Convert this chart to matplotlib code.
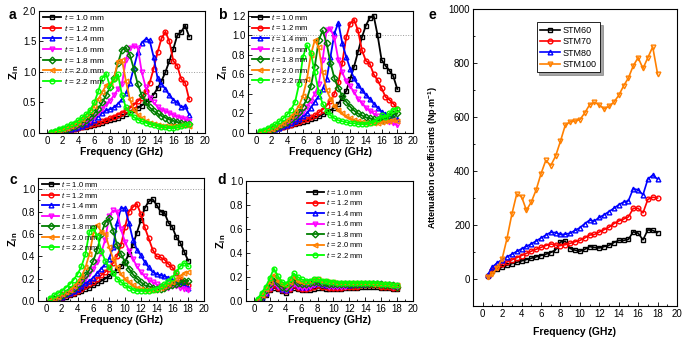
import numpy as np
import matplotlib
matplotlib.use("Agg")
import matplotlib.pyplot as plt
from matplotlib.ticker import MultipleLocator, AutoMinorLocator

#------------------------------------------------------------------------------
# data (Zin vs frequency, attenuation vs frequency)

freq = [0.5, 1.0, 1.5, 2.0, 2.5, 3.0, 3.5, 4.0, 4.5, 5.0, 5.5, 6.0,
        6.5, 7.0, 7.5, 8.0, 8.5, 9.0, 9.5, 10.0, 10.5, 11.0, 11.5, 12.0,
        12.5, 13.0, 13.5, 14.0, 14.5, 15.0, 15.5, 16.0, 16.5, 17.0, 17.5, 18.0]

thick = ["1.0", "1.2", "1.4", "1.6", "1.8", "2.0", "2.2"]

# panel a
za_10 = [0.00,0.01,0.02,0.03,0.04,0.05,0.06,0.08,0.09,0.10,0.12,0.13,0.15,0.17,0.19,0.21,0.23,0.25,
         0.28,0.31,0.34,0.37,0.41,0.45,0.50,0.56,0.63,0.73,0.85,1.00,1.18,1.38,1.60,1.66,1.76,1.58]
za_12 = [0.00,0.01,0.02,0.03,0.04,0.05,0.07,0.08,0.10,0.11,0.13,0.15,0.17,0.19,0.21,0.24,0.27,0.30,
         0.33,0.37,0.41,0.46,0.52,0.58,0.68,0.82,1.05,1.32,1.55,1.66,1.50,1.18,1.10,0.88,0.82,0.55]
za_14 = [0.00,0.01,0.02,0.03,0.05,0.06,0.08,0.10,0.12,0.15,0.18,0.22,0.27,0.33,0.37,0.39,0.42,0.48,
         0.55,0.65,0.82,1.07,1.32,1.48,1.54,1.52,1.25,0.90,0.80,0.72,0.62,0.54,0.50,0.42,0.44,0.30]
za_16 = [0.00,0.01,0.03,0.04,0.06,0.08,0.10,0.12,0.15,0.18,0.22,0.27,0.33,0.40,0.47,0.53,0.62,0.72,
         0.80,1.20,1.40,1.43,1.40,1.00,0.75,0.58,0.50,0.43,0.38,0.36,0.33,0.30,0.27,0.25,0.23,0.20]
za_18 = [0.00,0.02,0.03,0.05,0.07,0.09,0.11,0.14,0.17,0.21,0.26,0.32,0.40,0.50,0.62,0.75,0.90,1.15,
         1.36,1.40,1.28,1.05,0.80,0.62,0.50,0.42,0.36,0.32,0.28,0.25,0.22,0.20,0.18,0.16,0.15,0.14]
za_20 = [0.00,0.02,0.04,0.06,0.08,0.11,0.14,0.18,0.23,0.29,0.36,0.44,0.55,0.67,0.78,0.80,0.90,1.18,
         1.20,0.85,0.55,0.38,0.30,0.24,0.20,0.17,0.15,0.13,0.12,0.11,0.11,0.11,0.12,0.13,0.13,0.12]
za_22 = [0.02,0.04,0.06,0.08,0.11,0.14,0.17,0.21,0.26,0.31,0.38,0.50,0.68,0.90,0.97,0.76,0.88,0.96,
         0.62,0.42,0.32,0.26,0.22,0.19,0.17,0.15,0.13,0.12,0.10,0.09,0.08,0.08,0.09,0.11,0.13,0.14]

# panel b
zb_10 = [0.00,0.01,0.02,0.03,0.04,0.05,0.06,0.07,0.08,0.09,0.10,0.11,0.12,0.14,0.15,0.17,0.19,0.21,
         0.23,0.26,0.30,0.36,0.43,0.55,0.68,0.83,0.98,1.10,1.18,1.20,1.00,0.75,0.69,0.64,0.58,0.45]
zb_12 = [0.00,0.01,0.02,0.03,0.04,0.05,0.06,0.07,0.08,0.10,0.11,0.13,0.14,0.16,0.18,0.21,0.24,0.28,
         0.33,0.40,0.52,0.72,0.98,1.12,1.16,1.05,0.85,0.74,0.71,0.60,0.54,0.46,0.37,0.34,0.30,0.25]
zb_14 = [0.00,0.01,0.02,0.03,0.04,0.05,0.07,0.08,0.10,0.12,0.14,0.17,0.20,0.26,0.32,0.38,0.45,0.55,
         0.78,1.02,1.13,0.92,0.78,0.66,0.56,0.49,0.44,0.39,0.35,0.30,0.26,0.22,0.19,0.17,0.16,0.14]
zb_16 = [0.00,0.01,0.02,0.03,0.05,0.06,0.08,0.10,0.12,0.15,0.18,0.22,0.27,0.33,0.40,0.50,0.75,1.05,
         1.07,0.97,0.75,0.62,0.53,0.48,0.42,0.35,0.31,0.26,0.23,0.20,0.17,0.15,0.13,0.11,0.10,0.08]
zb_18 = [0.00,0.01,0.02,0.04,0.05,0.07,0.09,0.11,0.14,0.17,0.21,0.27,0.35,0.48,0.68,0.95,1.05,0.92,
         0.72,0.56,0.46,0.38,0.32,0.27,0.23,0.20,0.18,0.16,0.15,0.14,0.13,0.13,0.14,0.17,0.19,0.20]
zb_20 = [0.00,0.01,0.03,0.04,0.06,0.08,0.10,0.13,0.17,0.22,0.28,0.38,0.55,0.80,0.95,0.88,0.62,0.44,
         0.35,0.28,0.24,0.20,0.17,0.15,0.13,0.12,0.11,0.10,0.10,0.10,0.10,0.11,0.12,0.12,0.13,0.12]
zb_22 = [0.02,0.03,0.05,0.07,0.09,0.12,0.15,0.19,0.24,0.32,0.50,0.78,0.90,0.82,0.62,0.42,0.30,0.23,
         0.18,0.15,0.13,0.12,0.11,0.10,0.10,0.09,0.09,0.09,0.10,0.11,0.14,0.18,0.16,0.20,0.24,0.25]

# panel c
zc_10 = [0.00,0.01,0.02,0.03,0.04,0.05,0.06,0.08,0.09,0.11,0.12,0.14,0.16,0.18,0.20,0.22,0.25,0.28,
         0.31,0.35,0.42,0.50,0.61,0.72,0.83,0.89,0.91,0.86,0.80,0.79,0.70,0.66,0.57,0.52,0.44,0.36]
zc_12 = [0.00,0.01,0.02,0.03,0.05,0.06,0.07,0.09,0.11,0.13,0.15,0.17,0.20,0.23,0.26,0.29,0.34,0.40,
         0.50,0.66,0.80,0.84,0.87,0.78,0.66,0.56,0.46,0.40,0.39,0.37,0.33,0.30,0.25,0.20,0.17,0.14]
zc_14 = [0.00,0.01,0.03,0.04,0.06,0.07,0.09,0.11,0.13,0.16,0.18,0.21,0.25,0.29,0.33,0.38,0.48,0.70,
         0.83,0.83,0.70,0.55,0.46,0.41,0.35,0.30,0.26,0.24,0.23,0.22,0.21,0.19,0.17,0.15,0.14,0.12]
zc_16 = [0.00,0.02,0.03,0.05,0.07,0.09,0.11,0.14,0.17,0.20,0.24,0.29,0.35,0.43,0.55,0.76,0.81,0.80,
         0.64,0.53,0.45,0.38,0.31,0.26,0.22,0.19,0.17,0.15,0.13,0.12,0.12,0.13,0.13,0.12,0.11,0.10]
zc_18 = [0.00,0.02,0.03,0.05,0.07,0.10,0.12,0.15,0.19,0.23,0.28,0.36,0.46,0.60,0.70,0.74,0.63,0.50,
         0.42,0.35,0.29,0.24,0.20,0.17,0.14,0.13,0.12,0.11,0.11,0.12,0.13,0.14,0.15,0.16,0.18,0.18]
zc_20 = [0.01,0.02,0.04,0.06,0.08,0.10,0.13,0.17,0.22,0.30,0.42,0.60,0.68,0.62,0.60,0.48,0.38,0.30,
         0.24,0.20,0.17,0.14,0.12,0.11,0.10,0.10,0.10,0.11,0.12,0.13,0.15,0.17,0.20,0.22,0.25,0.26]
zc_22 = [0.03,0.05,0.07,0.09,0.12,0.15,0.19,0.24,0.31,0.42,0.62,0.65,0.58,0.45,0.36,0.30,0.25,0.20,
         0.17,0.14,0.12,0.10,0.09,0.09,0.09,0.09,0.10,0.11,0.13,0.15,0.18,0.21,0.26,0.31,0.34,0.31]

# panel d
zd_10 = [0.00,0.02,0.05,0.09,0.11,0.10,0.08,0.07,0.09,0.11,0.10,0.09,0.09,0.09,0.10,0.11,0.11,0.10,
         0.10,0.10,0.10,0.10,0.11,0.11,0.11,0.11,0.12,0.12,0.12,0.12,0.12,0.11,0.11,0.11,0.10,0.10]
zd_12 = [0.00,0.03,0.06,0.10,0.13,0.11,0.09,0.08,0.10,0.13,0.11,0.10,0.10,0.11,0.12,0.13,0.12,0.12,
         0.11,0.11,0.11,0.11,0.12,0.12,0.12,0.12,0.13,0.13,0.13,0.13,0.13,0.12,0.12,0.12,0.11,0.11]
zd_14 = [0.00,0.03,0.07,0.12,0.16,0.13,0.10,0.09,0.12,0.15,0.13,0.12,0.12,0.13,0.14,0.15,0.14,0.13,
         0.13,0.13,0.13,0.13,0.13,0.13,0.14,0.14,0.14,0.14,0.15,0.15,0.15,0.15,0.14,0.14,0.13,0.13]
zd_16 = [0.00,0.03,0.07,0.11,0.15,0.12,0.10,0.09,0.11,0.14,0.12,0.11,0.11,0.12,0.13,0.14,0.13,0.13,
         0.12,0.12,0.12,0.12,0.12,0.13,0.13,0.13,0.13,0.13,0.14,0.14,0.14,0.13,0.13,0.13,0.12,0.12]
zd_18 = [0.01,0.04,0.09,0.14,0.19,0.15,0.12,0.11,0.14,0.18,0.15,0.14,0.14,0.15,0.16,0.16,0.15,0.15,
         0.14,0.14,0.14,0.14,0.14,0.14,0.14,0.14,0.14,0.14,0.14,0.14,0.14,0.14,0.13,0.13,0.13,0.12]
zd_20 = [0.01,0.05,0.10,0.16,0.22,0.17,0.14,0.13,0.16,0.20,0.17,0.16,0.16,0.17,0.18,0.18,0.17,0.17,
         0.16,0.16,0.15,0.15,0.15,0.15,0.15,0.15,0.15,0.15,0.15,0.14,0.14,0.14,0.14,0.13,0.13,0.13]
zd_22 = [0.02,0.07,0.12,0.19,0.27,0.21,0.16,0.14,0.18,0.23,0.20,0.18,0.17,0.17,0.18,0.18,0.17,0.17,
         0.16,0.16,0.15,0.15,0.15,0.15,0.15,0.15,0.15,0.15,0.15,0.15,0.15,0.14,0.14,0.14,0.13,0.13]

# panel e, attenuation coefficient (Np/m)
stm_names = ["STM60", "STM70", "STM80", "STM100"]
att_60 = [12,28,37,45,51,57,62,67,72,77,82,87,92,98,108,137,140,113,
          107,103,110,120,117,115,120,125,135,143,143,147,175,170,145,182,180,172]
att_70 = [12,33,45,55,63,71,79,87,95,103,110,117,124,130,126,124,127,132,
          138,143,152,163,165,174,183,192,205,215,222,230,262,262,245,295,303,300]
att_80 = [15,45,60,72,82,92,102,112,121,130,141,152,163,173,172,165,166,170,
          180,190,205,218,215,228,238,250,262,275,285,290,335,330,312,370,385,370]
att_100 = [6,20,42,75,150,240,315,305,255,285,330,390,440,420,455,510,570,582,
           585,590,615,645,655,645,630,640,655,680,715,745,790,820,780,820,860,760]

#------------------------------------------------------------------------------

plt.rcParams['font.family'] = ['Liberation Sans', 'DejaVu Sans']
plt.rcParams['mathtext.fontset'] = 'custom'
plt.rcParams['mathtext.rm'] = 'Liberation Sans'
plt.rcParams['mathtext.it'] = 'Liberation Sans:italic'
plt.rcParams['mathtext.bf'] = 'Liberation Sans:bold'

colors = ['#000000', '#FF0000', '#0000FF', '#FF00FF', '#007F00', '#FF8000', '#00FF00']
markers = ['s', 'o', '^', 'v', 'D', '<', 'o']

fig = plt.figure(figsize=(6.85, 3.39), dpi=100)

ax_a = fig.add_axes([0.0569, 0.6077, 0.2423, 0.360])
ax_b = fig.add_axes([0.3620, 0.6077, 0.2409, 0.360])
ax_c = fig.add_axes([0.0555, 0.1121, 0.2423, 0.3628])
ax_d = fig.add_axes([0.3591, 0.1121, 0.2438, 0.3540])
ax_e = fig.add_axes([0.6905, 0.0973, 0.2978, 0.8760])


def style_axes(ax):
    ax.tick_params(which='both', direction='in', labelsize=7, pad=2,
                   top=False, right=False, width=0.6)
    ax.tick_params(which='major', length=3)
    ax.tick_params(which='minor', length=1.5)
    for s in ax.spines.values():
        s.set_linewidth(0.8)


def zin_panel(ax, series, ylim, ystep, leg_pos, leg_size, dashed=True):
    for i in range(len(series)):
        ax.plot(freq, series[i], color=colors[i], marker=markers[i], ms=3.4,
                mfc='none', mew=1.0, lw=1.3,
                label="$t$ = " + thick[i] + " mm")
    if dashed:
        ax.axhline(1.0, color='#999999', ls=':', lw=0.7, zorder=0)
    ax.set_xlim(-1, 20)
    ax.set_ylim(*ylim)
    ax.xaxis.set_major_locator(MultipleLocator(2))
    ax.xaxis.set_minor_locator(AutoMinorLocator(2))
    ax.yaxis.set_major_locator(MultipleLocator(ystep))
    ax.yaxis.set_minor_locator(AutoMinorLocator(2))
    ax.set_xlabel("Frequency (GHz)", fontsize=7.5, fontweight='bold', labelpad=1)
    ax.set_ylabel(r"$\mathbf{Z_{in}}$", fontsize=8, labelpad=1)
    style_axes(ax)
    ax.legend(loc='upper left', bbox_to_anchor=leg_pos, frameon=False,
              fontsize=leg_size, handlelength=2.2, handletextpad=0.3,
              labelspacing=0.2, borderpad=0.1, borderaxespad=0)


zin_panel(ax_a, [za_10, za_12, za_14, za_16, za_18, za_20, za_22], (0, 2.0), 0.5, (0.02, 0.99), 6)
zin_panel(ax_b, [zb_10, zb_12, zb_14, zb_16, zb_18, zb_20, zb_22], (0, 1.25), 0.2, (0.02, 0.99), 5.5)
zin_panel(ax_c, [zc_10, zc_12, zc_14, zc_16, zc_18, zc_20, zc_22], (0, 1.1), 0.2, (0.02, 0.99), 5.5)
zin_panel(ax_d, [zd_10, zd_12, zd_14, zd_16, zd_18, zd_20, zd_22], (0, 1.0), 0.2, (0.36, 0.95), 5.5,
          dashed=False)

""" Attenuation coefficient panel """
att = [att_60, att_70, att_80, att_100]
e_colors = ['#000000', '#FF0000', '#0000FF', '#FF8000']
e_markers = ['s', 'o', '^', 'v']
for i in range(len(att)):
    ax_e.plot(freq, att[i], color=e_colors[i], marker=e_markers[i], ms=3.4,
              mfc='none', mew=1.0, lw=1.2, label=stm_names[i])
ax_e.set_xlim(-1, 20)
ax_e.set_ylim(-100, 1000)
ax_e.xaxis.set_major_locator(MultipleLocator(2))
ax_e.xaxis.set_minor_locator(AutoMinorLocator(2))
ax_e.yaxis.set_major_locator(MultipleLocator(200))
ax_e.yaxis.set_minor_locator(AutoMinorLocator(2))
ax_e.set_xlabel("Frequency (GHz)", fontsize=7.5, fontweight='bold', labelpad=6)
ax_e.set_ylabel(r"Attenuation coefficients (Np$\cdot$m$^{\mathbf{-1}}$)", fontsize=6.5,
                fontweight='bold', labelpad=6)
style_axes(ax_e)
leg = ax_e.legend(loc='upper left', bbox_to_anchor=(0.29, 0.97), fontsize=6.5,
                  handlelength=2.2, handletextpad=0.3, labelspacing=0.25,
                  fancybox=False, shadow=True, edgecolor='black', framealpha=1)
leg.get_frame().set_linewidth(0.6)

# panel letters
for lab, x, y in [("a", 0.012, 0.975), ("b", 0.318, 0.975), ("c", 0.014, 0.49),
                  ("d", 0.318, 0.49), ("e", 0.626, 0.975)]:
    fig.text(x, y, lab, fontsize=10, fontweight='bold', va='top')

fig.savefig("out.png", dpi=100)
